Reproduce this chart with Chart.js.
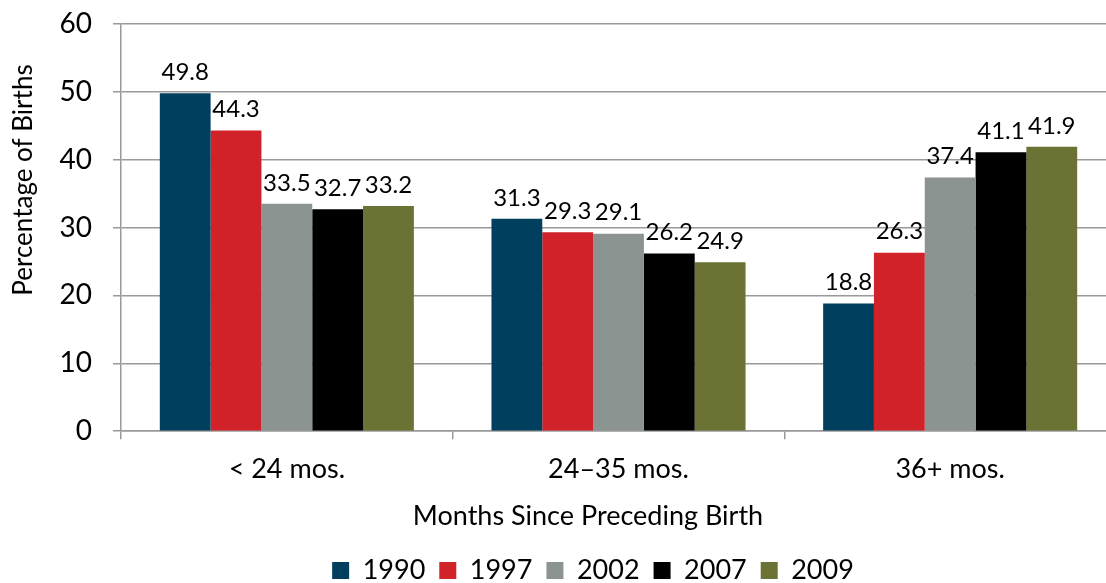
<!DOCTYPE html>
<html>
<head>
<meta charset="utf-8">
<script src="https://cdn.jsdelivr.net/npm/chart.js@4.4.0/dist/chart.umd.min.js"></script>
<style>
    html, body { margin: 0; padding: 0; background: #fff; overflow: hidden; }
    #wrap { width: 1116px; height: 583px; }
</style>
</head>
<body>
<div id="wrap"><canvas id="chart" width="1116" height="583"></canvas></div>
<script>
// Data
const categories = ['< 24 mos.', '24–35 mos.', '36+ mos.'];
const years = ['1990', '1997', '2002', '2007', '2009'];
const values1990 = [49.8, 31.3, 18.8];
const values1997 = [44.3, 29.3, 26.3];
const values2002 = [33.5, 29.1, 37.4];
const values2007 = [32.7, 26.2, 41.1];
const values2009 = [33.2, 24.9, 41.9];
const yTicks = [0, 10, 20, 30, 40, 50, 60];
const yTitle = 'Percentage of Births';

const colors = ['#013f5e', '#d12229', '#8b9491', '#000000', '#6b7233'];
const fontFamily = 'Lato, "Open Sans", sans-serif';

const seriesValues = [values1990, values1997, values2002, values2007, values2009];

// value labels above each bar
const barLabels = {
    id: 'barLabels',
    afterDatasetsDraw(chart) {
        const ctx = chart.ctx;
        ctx.save();
        ctx.font = '24px ' + fontFamily;
        ctx.fillStyle = '#000';
        ctx.textAlign = 'center';
        ctx.textBaseline = 'bottom';
        chart.data.datasets.forEach((ds, i) => {
            const meta = chart.getDatasetMeta(i);
            meta.data.forEach((bar, j) => {
                ctx.fillText(ds.data[j].toFixed(1), bar.x, bar.y - 9);
            });
        });
        ctx.restore();
    }
};

// y title sits above the middle of the axis in the original, so draw it by hand
const yTitlePlugin = {
    id: 'yTitlePlugin',
    afterDraw(chart) {
        const ctx = chart.ctx;
        ctx.save();
        ctx.translate(24, 180);
        ctx.rotate(-Math.PI / 2);
        ctx.font = '26px ' + fontFamily;
        ctx.fillStyle = '#000';
        ctx.textAlign = 'center';
        ctx.textBaseline = 'middle';
        ctx.fillText(yTitle, 0, 0);
        ctx.restore();
    }
};

// the legend and axis title sit a bit right of the canvas centre in the original
const shiftBottom = {
    id: 'shiftBottom',
    afterLayout(chart) {
        const lg = chart.legend;
        if (lg) { lg.left += 35; lg.right += 35; }
        const tt = chart.titleBlock;
        if (tt) { tt.left += 30; tt.right += 30; }
    }
};

const ctx = document.getElementById('chart').getContext('2d');
new Chart(ctx, {
    type: 'bar',
    data: {
        labels: categories,
        datasets: years.map((y, i) => ({
            label: y,
            data: seriesValues[i],
            backgroundColor: colors[i],
            borderWidth: 0,
            categoryPercentage: 0.766,
            barPercentage: 1
        }))
    },
    options: {
        responsive: false,
        animation: false,
        layout: { padding: { top: 24, right: 0, bottom: -11, left: 0 } },
        scales: {
            x: {
                grid: {
                    drawOnChartArea: false,
                    tickLength: 8,
                    color: '#9a9a9a',
                    lineWidth: 1.5
                },
                border: { color: '#9a9a9a', width: 1.5 },
                ticks: {
                    color: '#000',
                    padding: 14,
                    font: { family: fontFamily, size: 27 }
                }
            },
            y: {
                min: 0,
                max: 60,
                afterBuildTicks(scale) {
                    scale.ticks = yTicks.map(v => ({ value: v }));
                },
                afterFit(scale) {
                    scale.width = 121;
                    scale.paddingTop = 0;
                    scale.paddingBottom = 0;
                },
                grid: {
                    color: '#9a9a9a',
                    lineWidth: 1.5,
                    tickLength: 8
                },
                border: { color: '#9a9a9a', width: 1.5 },
                ticks: {
                    color: '#000',
                    padding: 21,
                    font: { family: fontFamily, size: 28 }
                }
            }
        },
        plugins: {
            tooltip: { enabled: false },
            title: {
                display: true,
                text: 'Months Since Preceding Birth',
                position: 'bottom',
                weight: 500,
                color: '#000',
                padding: { top: 0, bottom: 11 },
                font: { family: fontFamily, size: 27, weight: 'normal' }
            },
            legend: {
                position: 'bottom',
                labels: {
                    boxWidth: 17,
                    boxHeight: 17,
                    padding: 14,
                    color: '#000',
                    font: { family: fontFamily, size: 27 }
                }
            }
        }
    },
    plugins: [barLabels, yTitlePlugin, shiftBottom]
});
</script>
</body>
</html>
